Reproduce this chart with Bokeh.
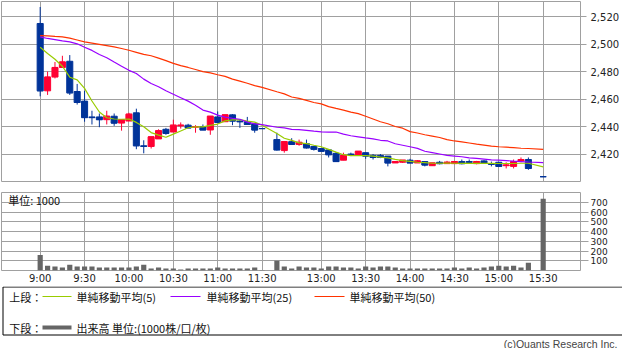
from bokeh.plotting import figure
from bokeh.layouts import column
from bokeh.models import ColumnDataSource, FixedTicker, NumeralTickFormatter, Label
from bokeh.core.properties import value
from bokeh.embed import file_html
from bokeh.resources import INLINE

# ---- bar times (5-minute bars; lunch break between 11:30 and 12:30; no bar at 15:25) ----
morning_times = [f"{9 + (i * 5) // 60}:{(i * 5) % 60:02d}" for i in range(31)]          # 9:00 .. 11:30
afternoon_times = [f"{12 + (30 + i * 5) // 60}:{(30 + i * 5) % 60:02d}" for i in range(35)]  # 12:30 .. 15:20
times = morning_times + afternoon_times + ["15:30"]

opens = [2515, 2466, 2476, 2483, 2487.5, 2465.5, 2458.5, 2447, 2447, 2445, 2447.5, 2442.5, 2444, 2450, 2426,
         2425.5, 2431, 2438, 2436, 2440.5, 2441, 2439.5, 2440, 2437.5, 2447, 2443.5, 2448.5, 2444, 2443.5, 2442, 2438.5,
         2430.5, 2422.5, 2429, 2427, 2427.5, 2425.5, 2424, 2423, 2420.5, 2415.5, 2420, 2419, 2421, 2419, 2419, 2418.5,
         2413.5, 2414, 2415.5, 2413.5, 2414.5, 2411.5, 2414, 2413, 2413, 2414.5, 2414.5, 2413, 2415, 2413, 2414, 2411.5,
         2411, 2415, 2416,
         2403.5]
highs = [2527, 2480, 2487, 2491.5, 2492, 2471, 2466, 2451.5, 2449.5, 2451.5, 2449.5, 2445, 2450, 2453, 2430,
         2432.5, 2438, 2439, 2445, 2443, 2442, 2441, 2441.5, 2447.5, 2451, 2448.5, 2449, 2445, 2447, 2442, 2438.5,
         2435.5, 2429, 2431.5, 2430.5, 2430.5, 2426, 2424, 2423, 2421.5, 2421, 2421, 2422, 2421, 2420, 2420, 2418.5,
         2414.5, 2415.5, 2416.5, 2415.5, 2414.5, 2413.5, 2415, 2415, 2414.5, 2416, 2416, 2415, 2415.5, 2414.5, 2414,
         2414, 2416, 2417.5, 2417.5,
         2403.5]
lows = [2462, 2463, 2475, 2483, 2463, 2456, 2443.5, 2441.5, 2439.5, 2441.5, 2440.5, 2437, 2444, 2423.5, 2420.5,
        2424, 2431, 2434, 2436, 2438.5, 2439, 2435.5, 2437.5, 2434, 2443, 2443.5, 2441, 2439, 2441.5, 2435.5, 2438.5,
        2422.5, 2421, 2427, 2426, 2424, 2422.5, 2422, 2417.5, 2414.5, 2415.5, 2418.5, 2419, 2416.5, 2416, 2417, 2411,
        2413.5, 2413.5, 2413.5, 2413.5, 2411, 2411.5, 2412.5, 2413, 2413, 2412.5, 2413, 2412.5, 2413.5, 2411, 2410.5,
        2409.5, 2409.5, 2414, 2408.5,
        2403.5]
closes = [2466, 2476, 2483, 2487, 2464.5, 2457.5, 2446.5, 2446.5, 2445, 2447.5, 2442.5, 2445, 2449, 2426, 2425.5,
          2432.5, 2437, 2435, 2441, 2441, 2439, 2440, 2437.5, 2447.5, 2443, 2448.5, 2444, 2443.5, 2441.5, 2437.5, 2438.5,
          2423, 2429, 2427, 2428.5, 2424.5, 2423.5, 2422, 2419.5, 2414.5, 2419, 2419.5, 2422, 2418.5, 2417.5, 2417.5,
          2413.5, 2414.5, 2415.5, 2413.5, 2415, 2412, 2413.5, 2413, 2414, 2414.5, 2413, 2414, 2414.5, 2413.5, 2412.5,
          2411, 2412, 2414.5, 2416, 2409.5,
          2403.5]
volumes = [160, 50, 40, 30, 60, 40, 40, 40, 30, 30, 30, 30, 30, 40, 60, 20, 30, 20, 20, 10, 20, 20, 20, 20, 30,
           20, 20, 20, 20, 30, 5,
           100, 40, 20, 40, 30, 30, 20, 40, 40, 30, 30, 20, 40, 30, 40, 40, 30, 20, 20, 20, 20, 20, 20, 20, 30, 20,
           30, 20, 30, 40, 50, 40, 50, 30, 80,
           735]
ma5 = [2497.7, 2493.1, 2489, 2483.9, 2475.9, 2474, 2467.8, 2458.6, 2450.6, 2446.4, 2445.5, 2445.3, 2445.5, 2443,
       2439.8, 2435.6, 2433.8, 2432.2, 2434.5, 2436.8, 2439.1, 2439.8, 2439.8, 2440.9, 2441.8, 2444.1, 2444.8, 2445,
       2443.9, 2443.2, 2440.9,
       2435, 2431.5, 2429.9, 2428.1, 2427.6, 2426.4, 2425.3, 2423.4, 2421.4, 2419.5, 2418.8, 2418.8, 2418.8, 2418.4,
       2417.7, 2417.2, 2416.1, 2415.2, 2414.7, 2414, 2413.8, 2413.3, 2413.3, 2413.4, 2413.3, 2413.2, 2413.2, 2413.2,
       2413.2, 2413.2, 2413.1, 2413.1, 2413.1, 2413.3, 2413.3,
       2410.6]
ma25 = [2505.3, 2504.1, 2503.2, 2502.3, 2501.6, 2500.2, 2497.7, 2495.4, 2492.4, 2490.1, 2486.9, 2483.9, 2480.9,
        2478.6, 2474.5, 2471.3, 2469, 2466, 2463.5, 2461, 2458.5, 2455.5, 2452, 2450.5, 2448.3, 2446.8, 2446, 2445.3,
        2443.2, 2442, 2441.4,
        2439.5, 2439, 2438, 2437.7, 2437.2, 2436.6, 2436.1, 2436, 2436, 2434.5, 2433.3, 2432.5, 2431.7, 2431, 2430,
        2429.5, 2427.5, 2426.4, 2425.3, 2424.1, 2422, 2421, 2420, 2419, 2418.5, 2418, 2417.2, 2416.8, 2416.3, 2415.8,
        2415.5, 2415.2, 2414.8, 2414.5, 2414.2,
        2413.8]
ma50 = [2506.2, 2506, 2505.6, 2505.3, 2504.3, 2503, 2501.6, 2500.7, 2499.8, 2498.9, 2498, 2496.8, 2495.5, 2494,
        2492.5, 2491.5, 2489.8, 2488, 2486, 2484.3, 2483, 2481.5, 2480, 2479, 2477.7, 2476.5, 2474.5, 2473, 2471.5,
        2469.8, 2468.5,
        2465.3, 2463.8, 2461.5, 2460.5, 2459, 2457.5, 2456.5, 2454.5, 2453.2, 2452, 2450.5, 2449.4, 2447.5, 2445.5,
        2443.5, 2442, 2440, 2438.8, 2436.3, 2435.3, 2434, 2433, 2432, 2430.5, 2429.5, 2428.8, 2428, 2427.2, 2426.5,
        2425.8, 2425.3, 2425, 2424.6, 2424.2, 2424,
        2423.4]

tick_labels = ["9:00", "9:30", "10:00", "10:30", "11:00", "11:30", "13:00", "13:30", "14:00", "14:30", "15:00", "15:30"]
price_ticks = [2420, 2440, 2460, 2480, 2500, 2520]
volume_ticks = [100, 200, 300, 400, 500, 600, 700]

legend_labels = ["単純移動平均(5)", "単純移動平均(25)", "単純移動平均(50)"]
volume_legend = "出来高 単位:(1000株/口/枚)"

UP = "#ff0033"
DOWN = "#003399"
GRID = "#a0a0a0"
MA_COLORS = ["#99cc00", "#9900ff", "#ff3300"]


def slot(t):
    h, m = map(int, t.split(":"))
    mins = h * 60 + m
    if mins <= 11 * 60 + 30:
        return (mins - 9 * 60) / 5
    return (mins - (12 * 60 + 30)) / 5 + 32


xs = [slot(t) for t in times]
tick_slots = [slot(t) for t in tick_labels]

colors = [UP if c > o else DOWN for o, c in zip(opens, closes)]
src = ColumnDataSource(dict(
    x=xs, open=opens, high=highs, low=lows, close=closes, vol=volumes,
    top=[max(o, c) for o, c in zip(opens, closes)],
    bottom=[min(o, c) for o, c in zip(opens, closes)],
    x0=[x - 0.4 for x in xs], x1=[x + 0.4 for x in xs],
    color=colors, ma5=ma5, ma25=ma25, ma50=ma50,
))

PX_PER_SLOT = 7.397
X0 = -5.23
FRAME_W = 579

# ---------------- price pane ----------------
p1 = figure(frame_width=FRAME_W, frame_height=180, x_range=(X0, X0 + FRAME_W / PX_PER_SLOT), y_range=(2400, 2531),
            output_backend="svg", toolbar_location=None, y_axis_location="right",
            min_border_left=1, min_border_right=0, min_border_top=1, min_border_bottom=1)
p1.xaxis.visible = False
p1.xgrid.ticker = FixedTicker(ticks=tick_slots)
p1.yaxis.ticker = FixedTicker(ticks=price_ticks)
p1.ygrid.ticker = FixedTicker(ticks=price_ticks)
p1.yaxis.formatter = NumeralTickFormatter(format="0,0")
p1.yaxis.axis_line_color = None
p1.yaxis.major_tick_line_color = GRID
p1.yaxis.major_tick_out = 6
p1.yaxis.major_tick_in = 0
p1.yaxis.minor_tick_line_color = None
p1.yaxis.major_label_standoff = 4
p1.yaxis.major_label_text_font = "DejaVu Sans"
p1.yaxis.major_label_text_font_size = "10px"
p1.yaxis.major_label_text_color = "#222222"
p1.grid.grid_line_color = GRID
p1.outline_line_color = GRID

p1.segment(x0="x", y0="low", x1="x", y1="high", color="color", line_width=1, source=src)
p1.vbar(x="x", width=0.82, top="top", bottom="bottom", fill_color="color", line_color="color", source=src)
p1.segment(x0="x0", y0="close", x1="x1", y1="close", color="color", line_width=1, source=src)
for col, c in zip(["ma5", "ma25", "ma50"], MA_COLORS):
    p1.line(x="x", y=col, color=c, line_width=1.2, source=src)

# ---------------- volume pane ----------------
p2 = figure(frame_width=FRAME_W, frame_height=78, x_range=(X0, X0 + FRAME_W / PX_PER_SLOT), y_range=(0, 800),
            output_backend="svg", toolbar_location=None, y_axis_location="right",
            min_border_left=1, min_border_right=0, min_border_top=10, min_border_bottom=0)
p2.xaxis.ticker = FixedTicker(ticks=tick_slots)
p2.xaxis.major_label_overrides = {s: lab for s, lab in zip(tick_slots, tick_labels)}
p2.xaxis.axis_line_color = None
p2.xaxis.major_tick_line_color = None
p2.xaxis.minor_tick_line_color = None
p2.xaxis.major_tick_out = 0
p2.xaxis.major_label_standoff = 2
p2.xaxis.major_label_text_font = "DejaVu Sans"
p2.xaxis.major_label_text_font_size = "10px"
p2.xaxis.major_label_text_color = "#222222"
p2.yaxis.ticker = FixedTicker(ticks=volume_ticks)
p2.ygrid.ticker = FixedTicker(ticks=volume_ticks)
p2.yaxis.axis_line_color = None
p2.yaxis.major_tick_line_color = GRID
p2.yaxis.major_tick_out = 8
p2.yaxis.major_tick_in = 0
p2.yaxis.minor_tick_line_color = None
p2.yaxis.major_label_standoff = 2
p2.yaxis.major_label_text_font = "DejaVu Sans"
p2.yaxis.major_label_text_font_size = "9px"
p2.yaxis.major_label_text_color = "#222222"
p2.grid.grid_line_color = GRID
p2.outline_line_color = GRID
p2.vbar(x="x", width=0.7, top="vol", bottom=0, fill_color="#666666", line_color=None, source=src)
p2.add_layout(Label(x=X0 + 0.9, y=725, text="単位: 1000", text_font="Noto Sans CJK JP",
                    text_font_size="11px", text_baseline="middle", text_color="#111111"))

# ---------------- legend / footer ----------------
p3 = figure(frame_width=622, frame_height=62, x_range=(0, 622), y_range=(0, 62),
            output_backend="svg", toolbar_location=None, x_axis_type=None, y_axis_type=None,
            min_border_left=0, min_border_right=0, min_border_top=0, min_border_bottom=0)
p3.grid.visible = False
p3.outline_line_color = None
p3.quad(left=[1.5], right=[621.5], bottom=[13.5], top=[61.5], fill_color=None, line_color="#000000", line_width=1)
p3.segment(x0=[41, 169, 313], y0=[52, 52, 52], x1=[70, 199, 343], y1=[52, 52, 52],
           color=MA_COLORS, line_width=1.2)
p3.segment(x0=[41], y0=[21], x1=[70], y1=[21], color="#666666", line_width=4)
p3.text(x=[7.7, 75, 205, 348, 7.7, 75],
        y=[52, 52, 52, 52, 21, 21],
        text=["上段："] + legend_labels + ["下段：", volume_legend],
        text_font=value("Noto Sans CJK JP"), text_font_size=value("11px"),
        text_baseline="middle", text_align="left", text_color="#111111")
p3.text(x=[616], y=[5], text=["(c)Quants Research Inc."], text_font=value("Liberation Sans"),
        text_font_size=value("10.5px"), text_baseline="middle", text_align="right", text_color="#444444")

layout = column(p1, p2, p3, spacing=0)
open("out.html", "w").write(file_html(layout, INLINE))
